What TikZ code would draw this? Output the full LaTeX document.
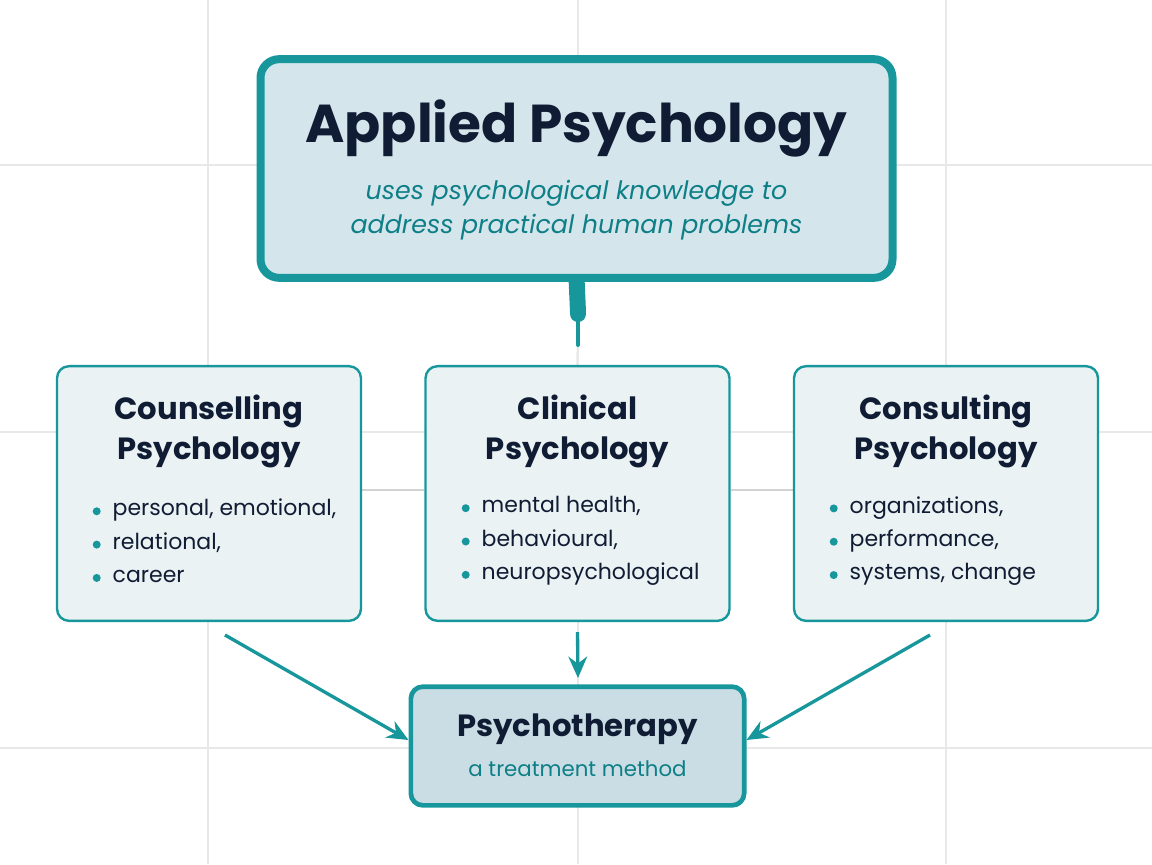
\documentclass[tikz,border=0pt]{standalone}
\usepackage{fontspec}
\setmainfont{Poppins}
\usepackage{tikz}
\usetikzlibrary{positioning, arrows.meta, backgrounds}
\definecolor{teal1}{HTML}{17979C}
\definecolor{teal2}{HTML}{0E7F86}
\definecolor{ink}{HTML}{101C33}
\definecolor{topfill}{HTML}{D4E5EC}
\definecolor{midfill}{HTML}{EAF2F4}
\definecolor{botfill}{HTML}{CADDE4}
\definecolor{gridc}{HTML}{E8E8E8}
\tikzstyle{topbox}=[draw=teal1, line width=6pt, fill=topfill, rounded corners=14pt, minimum width=474pt, minimum height=164pt]
\tikzstyle{area}=[draw=teal1, line width=1.8pt, fill=midfill, rounded corners=9pt, minimum width=228pt, minimum height=191pt]
\tikzstyle{therapy}=[draw=teal1, line width=3.5pt, fill=botfill, rounded corners=9pt, minimum width=250pt, minimum height=89pt]
\tikzstyle{ttl}=[font=\fontsize{23}{30}\selectfont\bfseries, text=ink, align=center]
\tikzstyle{item}=[font=\fontsize{16.5}{25}\selectfont, text=ink, align=left]
\tikzstyle{flow}=[teal1, line width=2.5pt, -{Stealth[length=16pt, width=14pt]}]
\tikzset{bul/.style={circle, fill=teal1, inner sep=0pt, minimum size=6pt}}
\newcommand{\bl}{\tikz[baseline=-3.5pt]\node[bul]{};\hspace{9pt}}
\begin{document}
\begin{tikzpicture}[x=0.75pt, y=-0.75pt]
\useasboundingbox (0,0) rectangle (1152,864);
% the grid in the back
\foreach \gx in {208, 578, 946} \draw[gridc, line width=1pt] (\gx,0) -- (\gx,864);
\foreach \gy in {165, 432, 748} \draw[gridc, line width=1pt] (0,\gy) -- (1152,\gy);
% the boxes
\node[topbox] (AP) at (576.5,168.5) {};
\node[ttl, font=\fontsize{40}{48}\selectfont\bfseries] at (576.5,128) {Applied Psychology};
\node[align=center, text=teal2, font=\fontsize{19}{26}\selectfont\itshape] at (576.5,210) {uses psychological knowledge to\\address practical human problems};
\node[area] (CO) at (209,493.5) {};
\node[area] (CL) at (577.5,493.5) {};
\node[area] (CS) at (946,493.5) {};
\node[therapy] (PT) at (577.5,746) {};
\node[ttl] at (209,431) {Counselling\\Psychology};
\node[ttl] at (577.5,431) {Clinical\\Psychology};
\node[ttl] at (946,431) {Consulting\\Psychology};
\node[item, anchor=west] at (88,541) {\bl personal, emotional,\\\bl relational,\\\bl career};
\node[item, anchor=west] at (457,541) {\bl mental health,\\\bl behavioural,\\\bl neuropsychological};
\node[item, anchor=west] at (825,541) {\bl organizations,\\\bl performance,\\\bl systems, change};
\node[ttl] at (577.5,729) {Psychotherapy};
\node[text=teal2, font=\fontsize{16}{20}\selectfont] at (577.5,769) {a treatment method};
% the connectors
\begin{scope}[on background layer]
\draw[gridc!80!gray, line width=2pt] (CO.east |- 0,490) -- (CL.west |- 0,490);
\draw[gridc!80!gray, line width=2pt] (CL.east |- 0,490) -- (CS.west |- 0,490);
\draw[gridc!80!gray, line width=1.5pt] (578,340) -- (CL.north);
\end{scope}
\coordinate (stub) at (578,312);
\draw[teal1, line width=12pt] (AP.south) ++(0,-4) -- (stub);
\draw[teal1, line width=12pt, line cap=round] (stub) -- (578,314);
\draw[teal1, line width=3pt, line cap=round] (stub) -- (578,345);
\draw[flow] (225,635) -- (PT.west |- 0,740);
\draw[flow] (CL.south) ++(0,10) -- (578,678);
\draw[flow] (930,635) -- (PT.east |- 0,740);
\end{tikzpicture}
\end{document}
